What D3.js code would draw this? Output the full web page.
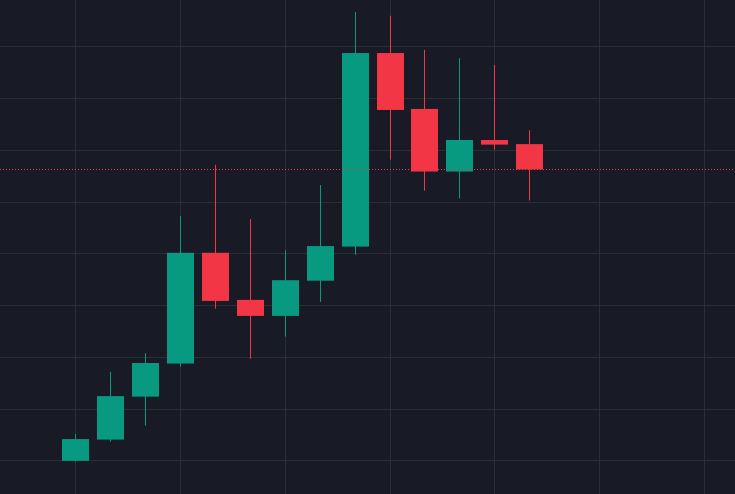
<!DOCTYPE html>
<html><head><meta charset="utf-8">
<script src="https://cdn.jsdelivr.net/npm/d3@7"></script>
<style>html,body{margin:0;padding:0;background:#181a26;overflow:hidden}</style>
</head><body>
<svg id="chart" width="735" height="494"></svg>
<script>
const dates = ["2023-01","2023-02","2023-03","2023-04","2023-05","2023-06","2023-07","2023-08","2023-09","2023-10","2023-11","2023-12","2024-01","2024-02"];
const opens  = [99.9, 104.0, 112.3, 118.7, 140.1, 131.0, 127.9, 134.7, 141.3, 178.7, 167.9, 155.8, 161.9, 161.1];
const highs  = [105.1, 117.1, 120.7, 147.2, 157.1, 146.6, 140.6, 153.2, 186.6, 185.9, 179.3, 177.7, 176.4, 163.8];
const lows   = [99.8, 103.6, 106.7, 118.1, 129.3, 119.6, 123.9, 130.6, 139.7, 158.1, 152.1, 150.6, 160.0, 150.2];
const closes = [104.1, 112.4, 118.8, 140.1, 130.8, 127.9, 134.8, 141.4, 178.7, 167.7, 155.8, 161.9, 161.0, 156.2];
const priceTicks = [100,110,120,130,140,150,160,170,180];
const slotCount = 19; // visible time slots incl. empty right space

const W = 735, H = 494;
const svg = d3.select("#chart");
const data = dates.map((d,i)=>({d, o:opens[i], h:highs[i], l:lows[i], c:closes[i], i}));

const x = d3.scaleLinear().domain([0, slotCount-1]).range([75.7, 704.3]);
const y = d3.scaleLinear().domain([100, 180]).range([460.3, 46.3]);
const bodyW = 27;
const up = "#089981", down = "#f23645";

svg.append("rect").attr("width",W).attr("height",H).attr("fill","#181a26");

// grid
const g = svg.append("g");
g.selectAll("line.h").data(priceTicks).join("line")
  .attr("x1",0).attr("x2",W)
  .attr("y1",d=>Math.round(y(d))+0.5).attr("y2",d=>Math.round(y(d))+0.5)
  .attr("stroke","#2a2e39").attr("stroke-width",1);
const vt = d3.range(0, slotCount, 3);
g.selectAll("line.v").data(vt).join("line")
  .attr("y1",0).attr("y2",H)
  .attr("x1",d=>Math.floor(x(d))+0.5).attr("x2",d=>Math.floor(x(d))+0.5)
  .attr("stroke","#2a2e39").attr("stroke-width",1);

// candles
const cg = svg.append("g");
cg.selectAll("line.wick").data(data).join("line")
  .attr("x1",d=>Math.floor(x(d.i))+0.5).attr("x2",d=>Math.floor(x(d.i))+0.5)
  .attr("y1",d=>y(d.h)).attr("y2",d=>y(d.l))
  .attr("stroke",d=>d.c>=d.o?up:down).attr("stroke-width",1);
cg.selectAll("rect.body").data(data).join("rect")
  .attr("x",d=>Math.floor(x(d.i))+0.5-bodyW/2)
  .attr("width",bodyW)
  .attr("y",d=>y(Math.max(d.o,d.c)))
  .attr("height",d=>Math.max(1, Math.abs(y(d.o)-y(d.c))))
  .attr("fill",d=>d.c>=d.o?up:down);

// last price line
const last = data[data.length-1];
svg.append("line")
  .attr("x1",0).attr("x2",W)
  .attr("y1",Math.round(y(last.c))+0.5).attr("y2",Math.round(y(last.c))+0.5)
  .attr("stroke", last.c>=last.o?up:down).attr("stroke-width",1)
  .attr("stroke-dasharray","1,2");
</script>
</body></html>
